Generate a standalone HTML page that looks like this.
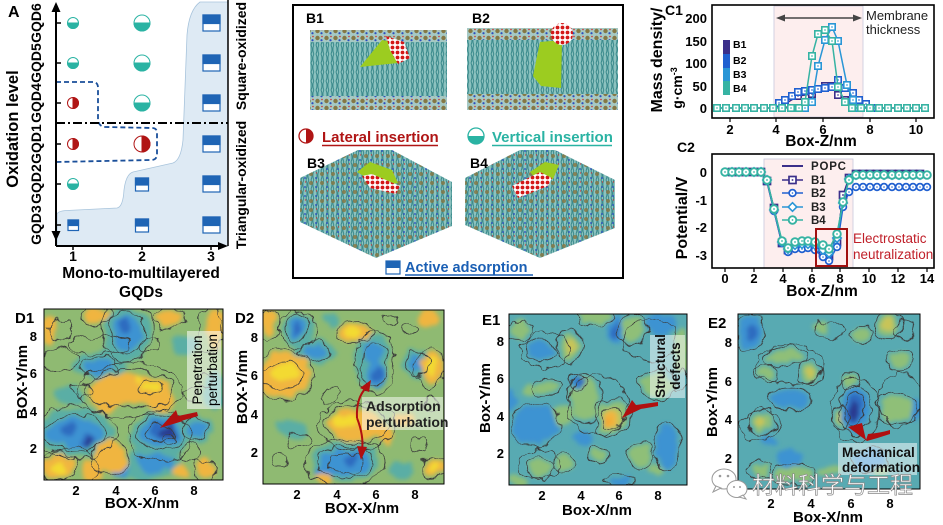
<!DOCTYPE html>
<html><head><meta charset="utf-8"><style>
html,body{margin:0;padding:0;background:#fff;}
svg{display:block;font-family:"Liberation Sans",Arial,sans-serif;}
.b{font-weight:bold;}
</style></head><body>
<svg width="943" height="525" viewBox="0 0 943 525" xmlns="http://www.w3.org/2000/svg">
<defs>
<filter id="hm" filterUnits="userSpaceOnUse" x="0" y="0" width="943" height="525">
<feTurbulence type="fractalNoise" baseFrequency="0.07" numOctaves="2" seed="4" result="t"/>
<feDisplacementMap in="SourceGraphic" in2="t" scale="13" xChannelSelector="R" yChannelSelector="G" result="d"/>
<feGaussianBlur in="d" stdDeviation="2.2"/>
</filter>
<filter id="ct" filterUnits="userSpaceOnUse" x="0" y="0" width="943" height="525">
<feTurbulence type="fractalNoise" baseFrequency="0.07" numOctaves="2" seed="4" result="t"/>
<feDisplacementMap in="SourceGraphic" in2="t" scale="13" xChannelSelector="R" yChannelSelector="G"/>
</filter>
<filter id="ct2" filterUnits="userSpaceOnUse" x="0" y="0" width="943" height="525">
<feTurbulence type="fractalNoise" baseFrequency="0.09" numOctaves="2" seed="9" result="t"/>
<feDisplacementMap in="SourceGraphic" in2="t" scale="12" xChannelSelector="R" yChannelSelector="G"/>
</filter>
<clipPath id="cD1"><rect x="44" y="309" width="179" height="171"/></clipPath>
<clipPath id="cD2"><rect x="263" y="310" width="181" height="174"/></clipPath>
<clipPath id="cE1"><rect x="509" y="314" width="178" height="171"/></clipPath>
<clipPath id="cE2"><rect x="738" y="314" width="182" height="175"/></clipPath>
<pattern id="lip" width="5" height="9" patternUnits="userSpaceOnUse">
<rect width="5" height="9" fill="#8cc2bf"/>
<path d="M1 0 Q3 4.5 1 9 M3.8 0 Q2 4.5 3.8 9" stroke="#3a8a8c" stroke-width="1" fill="none"/>
</pattern>
<pattern id="head" width="9" height="7" patternUnits="userSpaceOnUse">
<rect width="9" height="7" fill="#a6c9c4"/>
<circle cx="2.5" cy="3" r="2.2" fill="#857845"/>
<circle cx="6.5" cy="5.2" r="1.1" fill="#2a4fc0"/>
<circle cx="7" cy="1.5" r="0.8" fill="#d03030"/>
</pattern>
<pattern id="head2" width="11" height="9" patternUnits="userSpaceOnUse">
<circle cx="3" cy="3" r="2" fill="#857845"/>
<circle cx="8" cy="7" r="1" fill="#2a4fc0"/>
<circle cx="8.5" cy="2" r="0.7" fill="#d03030"/>
</pattern>
<pattern id="gq" width="5" height="5" patternUnits="userSpaceOnUse">
<rect width="5" height="5" fill="#fff"/>
<circle cx="2.5" cy="2.5" r="1.9" fill="#d41818"/>
</pattern>
<marker id="s1" markerWidth="9" markerHeight="9" refX="4.5" refY="4.5" markerUnits="userSpaceOnUse"><rect x="1.3" y="1.3" width="6.4" height="6.4" fill="#fff" stroke="#3b2f8a" stroke-width="1.6"/><rect x="3.8" y="3.8" width="1.4" height="1.4" fill="#3b2f8a"/></marker>
<marker id="s2" markerWidth="9" markerHeight="9" refX="4.5" refY="4.5" markerUnits="userSpaceOnUse"><rect x="1.3" y="1.3" width="6.4" height="6.4" fill="#fff" stroke="#2060d0" stroke-width="1.6"/><rect x="3.8" y="3.8" width="1.4" height="1.4" fill="#2060d0"/></marker>
<marker id="s3" markerWidth="9" markerHeight="9" refX="4.5" refY="4.5" markerUnits="userSpaceOnUse"><rect x="1.3" y="1.3" width="6.4" height="6.4" fill="#fff" stroke="#2a96d6" stroke-width="1.6"/><rect x="3.8" y="3.8" width="1.4" height="1.4" fill="#2a96d6"/></marker>
<marker id="s4" markerWidth="9" markerHeight="9" refX="4.5" refY="4.5" markerUnits="userSpaceOnUse"><rect x="1.3" y="1.3" width="6.4" height="6.4" fill="#fff" stroke="#36b3a3" stroke-width="1.6"/><rect x="3.8" y="3.8" width="1.4" height="1.4" fill="#36b3a3"/></marker>
<marker id="q1" markerWidth="10" markerHeight="10" refX="5" refY="5" markerUnits="userSpaceOnUse"><rect x="1.5" y="1.5" width="7" height="7" fill="#fff" stroke="#3b2f8a" stroke-width="1.7"/><rect x="4.2" y="4.2" width="1.6" height="1.6" fill="#3b2f8a"/></marker>
<marker id="c2" markerWidth="10" markerHeight="10" refX="5" refY="5" markerUnits="userSpaceOnUse"><circle cx="5" cy="5" r="3.4" fill="#fff" stroke="#2060d0" stroke-width="1.7"/><circle cx="5" cy="5" r="0.8" fill="#2060d0"/></marker>
<marker id="d3" markerWidth="11" markerHeight="11" refX="5.5" refY="5.5" markerUnits="userSpaceOnUse"><path d="M5.5 1.2 L9.8 5.5 L5.5 9.8 L1.2 5.5Z" fill="#fff" stroke="#2a96d6" stroke-width="1.6"/></marker>
<marker id="c4" markerWidth="11" markerHeight="11" refX="5.5" refY="5.5" markerUnits="userSpaceOnUse"><circle cx="5.5" cy="5.5" r="3.8" fill="#fff" stroke="#36b3a3" stroke-width="1.9"/><circle cx="5.5" cy="5.5" r="0.9" fill="#36b3a3"/></marker>
</defs>

<!-- ================= PANEL A ================= -->
<path d="M57,246 L57,214 Q58,211 67,210.5 L117,208 Q123,207 124,190 Q126,174 133,172 L173,163 Q181,160 183,140 L187,35 Q189,10 200,2 L228,2 L228,246 Z" fill="#deeaf4" stroke="#a8c4dc" stroke-width="0.8"/>
<path d="M56,82 L93,82 Q98,82 98,88 L98,120 Q99,127 106,127 L152,128 Q157,128 157,133 L157,154 Q157,160 151,160 L56,162" fill="none" stroke="#1a4f9a" stroke-width="1.8" stroke-dasharray="5,3"/>
<line x1="56" y1="123" x2="228" y2="123" stroke="#000" stroke-width="2" stroke-dasharray="9,3,2,3"/>
<line x1="56" y1="4" x2="56" y2="246" stroke="#000" stroke-width="2"/>
<line x1="56" y1="246" x2="224" y2="246" stroke="#000" stroke-width="2"/>
<line x1="228" y1="0" x2="228" y2="246" stroke="#000" stroke-width="1.5"/>
<path d="M51.5,12 L56,2 L60.5,12Z M51.5,231 L56,241 L60.5,231Z M218,242 L228,246 L218,250Z" fill="#000"/>
<g stroke="#000" stroke-width="1.5">
<line x1="56" y1="23" x2="61" y2="23"/><line x1="56" y1="63" x2="61" y2="63"/><line x1="56" y1="103" x2="61" y2="103"/>
<line x1="56" y1="144" x2="61" y2="144"/><line x1="56" y1="184" x2="61" y2="184"/><line x1="56" y1="225" x2="61" y2="225"/>
<line x1="73" y1="246" x2="73" y2="250"/><line x1="142" y1="246" x2="142" y2="250"/><line x1="211" y1="246" x2="211" y2="250"/>
</g>
<g stroke="#2ab3a3" stroke-width="1">
<circle cx="73" cy="23" r="5.5" fill="#fff"/><path d="M67.5,23 A5.5,5.5 0 0 0 78.5,23Z" fill="#2ab3a3"/>
<circle cx="73" cy="63" r="5.5" fill="#fff"/><path d="M67.5,63 A5.5,5.5 0 0 0 78.5,63Z" fill="#2ab3a3"/>
<circle cx="73" cy="184" r="5.5" fill="#fff"/><path d="M67.5,184 A5.5,5.5 0 0 0 78.5,184Z" fill="#2ab3a3"/>
<circle cx="142" cy="23" r="8" fill="#fff"/><path d="M134,23 A8,8 0 0 0 150,23Z" fill="#2ab3a3"/>
<circle cx="142" cy="63" r="8" fill="#fff"/><path d="M134,63 A8,8 0 0 0 150,63Z" fill="#2ab3a3"/>
<circle cx="142" cy="103" r="8" fill="#fff"/><path d="M134,103 A8,8 0 0 0 150,103Z" fill="#2ab3a3"/>
</g>
<g stroke="#b01515" stroke-width="1">
<circle cx="73" cy="103" r="5.5" fill="#fff"/><path d="M73,97.5 A5.5,5.5 0 0 1 73,108.5Z" fill="#b01515"/>
<circle cx="73" cy="144" r="5.5" fill="#fff"/><path d="M73,138.5 A5.5,5.5 0 0 1 73,149.5Z" fill="#b01515"/>
<circle cx="142" cy="144" r="8" fill="#fff"/><path d="M142,136 A8,8 0 0 1 142,152Z" fill="#b01515"/>
</g>
<g stroke="#1f65b5" stroke-width="1.2">
<rect x="203" y="15" width="17" height="16" fill="#fff"/><rect x="203" y="15" width="17" height="8.5" fill="#1f65b5"/>
<rect x="203" y="55" width="17" height="16" fill="#fff"/><rect x="203" y="55" width="17" height="8.5" fill="#1f65b5"/>
<rect x="203" y="95" width="17" height="16" fill="#fff"/><rect x="203" y="95" width="17" height="8.5" fill="#1f65b5"/>
<rect x="203" y="136" width="17" height="16" fill="#fff"/><rect x="203" y="136" width="17" height="8.5" fill="#1f65b5"/>
<rect x="203" y="176" width="17" height="16" fill="#fff"/><rect x="203" y="176" width="17" height="8.5" fill="#1f65b5"/>
<rect x="203" y="217" width="17" height="16" fill="#fff"/><rect x="203" y="217" width="17" height="8.5" fill="#1f65b5"/>
<rect x="135.5" y="178" width="13" height="13" fill="#fff"/><rect x="135.5" y="178" width="13" height="7" fill="#1f65b5"/>
<rect x="135.5" y="219" width="13" height="13" fill="#fff"/><rect x="135.5" y="219" width="13" height="7" fill="#1f65b5"/>
<rect x="68" y="220" width="10.5" height="10.5" fill="#fff"/><rect x="68" y="220" width="10.5" height="5.5" fill="#1f65b5"/>
</g>
<text x="8" y="17" class="b" font-size="16">A</text>
<g class="b" font-size="14" text-anchor="middle">
<text transform="translate(41,23) rotate(-90)">GQD6</text>
<text transform="translate(41,63) rotate(-90)">GQD5</text>
<text transform="translate(41,103) rotate(-90)">GQD4</text>
<text transform="translate(41,144) rotate(-90)">GQD1</text>
<text transform="translate(41,184) rotate(-90)">GQD2</text>
<text transform="translate(41,225) rotate(-90)">GQD3</text>
<text x="73" y="261">1</text><text x="142" y="261">2</text><text x="211" y="261">3</text>
<text transform="translate(246,56) rotate(-90)">Square-oxidized</text>
<text transform="translate(246,185) rotate(-90)">Triangular-oxidized</text>
</g>
<text transform="translate(18,129) rotate(-90)" class="b" font-size="16.5" text-anchor="middle">Oxidation level</text>
<text x="141" y="278" class="b" font-size="15.5" text-anchor="middle">Mono-to-multilayered</text>
<text x="141" y="297" class="b" font-size="15.5" text-anchor="middle">GQDs</text>

<!-- ================= PANEL B ================= -->
<rect x="293" y="5" width="330" height="273" fill="#fff" stroke="#000" stroke-width="2"/>
<rect x="310" y="36" width="137" height="70" fill="url(#lip)"/>
<rect x="310" y="30" width="137" height="12" fill="url(#head)"/>
<rect x="310" y="96" width="137" height="14" fill="url(#head)"/>
<path d="M360,67 L382,40 L396,42 L398,63Z" fill="#9ccc20"/>
<path d="M386,36 L404,42 L410,58 L398,64 L390,50Z" fill="url(#gq)"/>
<rect x="467" y="34" width="151" height="70" fill="url(#lip)"/>
<rect x="467" y="28" width="151" height="12" fill="url(#head)"/>
<rect x="467" y="94" width="151" height="16" fill="url(#head)"/>
<path d="M540,42 L562,40 L561,88 L541,86 L533,76Z" fill="#9ccc20"/>
<circle cx="562" cy="34" r="11" fill="url(#gq)"/>
<path d="M358,150 L300,178 L300,222 L376,258 L452,226 L452,182 L392,150Z" fill="url(#lip)"/>
<path d="M358,150 L300,178 L300,222 L376,258 L452,226 L452,182 L392,150Z" fill="url(#head2)" opacity="0.85"/>
<path d="M357,172 L370,162 L392,170 L398,183 L380,186Z" fill="#9ccc20"/>
<path d="M362,176 L372,174 L400,186 L396,194 L370,188Z" fill="url(#gq)"/>
<path d="M520,150 L465,178 L465,225 L540,258 L615,228 L615,180 L555,150Z" fill="url(#lip)"/>
<path d="M520,150 L465,178 L465,225 L540,258 L615,228 L615,180 L555,150Z" fill="url(#head2)" opacity="0.85"/>
<path d="M530,172 L545,162 L559,165 L553,179 L538,181Z" fill="#9ccc20"/>
<path d="M512,186 L540,172 L552,178 L548,186 L518,198Z" fill="url(#gq)"/>
<g class="b" font-size="14">
<text x="306" y="23">B1</text><text x="472" y="23">B2</text>
<text x="307" y="168">B3</text><text x="470" y="168">B4</text>
</g>
<circle cx="306" cy="136" r="7" fill="#fff" stroke="#b01515" stroke-width="1.3"/><path d="M306,129 A7,7 0 0 1 306,143Z" fill="#b01515"/>
<text x="322" y="142" class="b" font-size="15" fill="#b01515">Lateral insertion</text>
<line x1="322" y1="145.5" x2="438" y2="145.5" stroke="#b01515" stroke-width="1.5"/>
<circle cx="476" cy="136" r="8" fill="#fff" stroke="#2ab3a3" stroke-width="1.3"/><path d="M468,136 A8,8 0 0 0 484,136Z" fill="#2ab3a3"/>
<text x="492" y="142" class="b" font-size="15" fill="#2ab3a3">Vertical insertion</text>
<line x1="492" y1="145.5" x2="612" y2="145.5" stroke="#2ab3a3" stroke-width="1.5"/>
<rect x="386" y="261" width="14" height="13" fill="#fff" stroke="#1f65b5" stroke-width="1.2"/><rect x="386" y="261" width="14" height="7" fill="#1f65b5"/>
<text x="405" y="272" class="b" font-size="14.5" fill="#1a5fb4">Active adsorption</text>
<line x1="405" y1="275" x2="533" y2="275" stroke="#1a5fb4" stroke-width="1.5"/>

<!-- ================= PANEL C1 ================= -->
<rect x="774" y="6" width="89" height="111" fill="#fdeeee" stroke="#c8c8dc" stroke-width="0.8"/>
<rect x="712" y="5" width="222" height="113" fill="none" stroke="#000" stroke-width="1.6"/>
<line x1="782" y1="18" x2="856" y2="18" stroke="#444" stroke-width="1.5"/>
<path d="M776,18 L785,14.5 L785,21.5Z M862,18 L853,14.5 L853,21.5Z" fill="#444"/>
<text x="866" y="20" font-size="13" fill="#222">Membrane</text>
<text x="866" y="34" font-size="13" fill="#222">thickness</text>
<polyline points="717,108 773,108 785,104 798,96 812,94 825,86 832,86 838,95 845,100 852,106 859,108 929,108" fill="none" stroke="#3b2f8a" stroke-width="1.5" marker-mid="url(#s1)"/>
<polyline points="773,108 779,103 785,100 792,96 798,92 805,91 812,90 818,89 825,88 832,87 838,80 845,88 853,93 859,100 866,104 872,108" fill="none" stroke="#2060d0" stroke-width="1.5" marker-start="url(#s2)" marker-mid="url(#s2)" marker-end="url(#s2)"/>
<polyline points="799,108 805,108 812,102 818,66 825,40 832,27 838,41 847,85 853,100 859,108" fill="none" stroke="#2a96d6" stroke-width="1.5" marker-mid="url(#s3)" marker-end="url(#s3)"/>
<polyline points="717,108 726,108 736,108 745,108 754,108 764,108 773,108 782,108 791,108 799,108 805,102 812,56 818,34 825,30 832,41 838,87 845,102 852,108 861,108 870,108 879,108 888,108 898,108 907,108 916,108 925,108" fill="none" stroke="#36b3a3" stroke-width="1.5" marker-start="url(#s4)" marker-mid="url(#s4)" marker-end="url(#s4)"/>
<rect x="723" y="40" width="7" height="14" fill="#3b2f8a"/>
<rect x="723" y="54" width="7" height="14" fill="#2060d0"/>
<rect x="723" y="68" width="7" height="13" fill="#2a96d6"/>
<rect x="723" y="81" width="7" height="14" fill="#36b3a3"/>
<g class="b" font-size="10.5"><text x="733" y="48">B1</text><text x="733" y="64">B2</text><text x="733" y="78">B3</text><text x="733" y="92">B4</text></g>
<g stroke="#000" stroke-width="1.2">
<line x1="730" y1="118" x2="730" y2="122"/><line x1="776" y1="118" x2="776" y2="122"/><line x1="823" y1="118" x2="823" y2="122"/><line x1="870" y1="118" x2="870" y2="122"/><line x1="916" y1="118" x2="916" y2="122"/>
</g>
<g class="b" font-size="13" text-anchor="end">
<text x="707" y="23">200</text><text x="707" y="46">150</text><text x="707" y="68">100</text><text x="707" y="91">50</text><text x="707" y="113">0</text>
</g>
<g class="b" font-size="13" text-anchor="middle">
<text x="730" y="134">2</text><text x="776" y="134">4</text><text x="823" y="134">6</text><text x="870" y="134">8</text><text x="916" y="134">10</text>
</g>
<text x="821" y="146" class="b" font-size="15.5" text-anchor="middle">Box-Z/nm</text>
<text x="665" y="15" class="b" font-size="14">C1</text>
<text transform="translate(662,60) rotate(-90)" class="b" font-size="16" text-anchor="middle">Mass density/</text>
<text transform="translate(682,88) rotate(-90)" class="b" font-size="14" text-anchor="middle">g·cm<tspan font-size="9" dy="-5">-3</tspan></text>

<!-- ================= PANEL C2 ================= -->
<rect x="764" y="159" width="89" height="109" fill="#fdeeee" stroke="#c8c8dc" stroke-width="0.8"/>
<rect x="712" y="154" width="222" height="114" fill="none" stroke="#000" stroke-width="1.6"/>
<polyline points="725,172 761,172 767,181 774,210 782,243 788,250 795,247 802,247 808,246 815,247 823,253 829,256 837,242 843,198 849,178 856,174 927,174" fill="none" stroke="#3b2f8a" stroke-width="2"/>
<polyline points="725,172 732,172 739,172 746,172 754,172 761,172 767,181 774,208 782,243 788,250 795,247 802,247 808,246 815,247 823,253 829,256 837,242 843,195 849,178 856,174 863,174 870,174 877,174 884,174 892,174 899,174 906,174 913,174 920,174 927,174" fill="none" stroke="#3b2f8a" stroke-width="1.5" marker-mid="url(#q1)"/>
<polyline points="725,172 732,172 739,172 746,172 754,172 761,172 767,181 774,211 782,243 788,252 795,249 802,249 808,248 815,250 823,257 829,261 837,247 843,207 849,192 856,187 863,187 870,187 877,187 884,187 892,187 899,187 906,187 913,187 920,187 927,187" fill="none" stroke="#2060d0" stroke-width="1.5" marker-start="url(#c2)" marker-mid="url(#c2)" marker-end="url(#c2)"/>
<polyline points="725,172 732,172 739,172 746,172 754,172 761,172 767,180 774,210 782,242 788,249 795,245 802,244 808,244 815,245 823,250 829,253 837,238 843,203 849,179 856,175 863,175 870,175 877,175 884,175 892,175 899,175 906,175 913,175 920,175 927,175" fill="none" stroke="#2a96d6" stroke-width="1.5" marker-mid="url(#d3)"/>
<polyline points="725,172 732,172 739,172 746,172 754,172 761,172 767,180 774,209 782,241 788,248 795,242 802,241 808,241 815,242 823,245 829,249 837,234 843,202 849,180 856,175 863,175 870,175 877,175 884,175 892,175 899,175 906,175 913,175 920,175 927,175" fill="none" stroke="#36b3a3" stroke-width="1.6" marker-start="url(#c4)" marker-mid="url(#c4)" marker-end="url(#c4)"/>
<line x1="782" y1="166" x2="803" y2="166" stroke="#3b2f8a" stroke-width="2"/>
<polyline points="782,180 792.5,180 803,180" fill="none" stroke="#3b2f8a" stroke-width="1.5" marker-mid="url(#q1)"/>
<polyline points="782,193 792.5,193 803,193" fill="none" stroke="#2060d0" stroke-width="1.5" marker-mid="url(#c2)"/>
<polyline points="782,207 792.5,207 803,207" fill="none" stroke="#2a96d6" stroke-width="1.5" marker-mid="url(#d3)"/>
<polyline points="782,220 792.5,220 803,220" fill="none" stroke="#36b3a3" stroke-width="1.6" marker-mid="url(#c4)"/>
<g class="b" font-size="11.5" fill="#222">
<text x="811" y="170" letter-spacing="0.8">POPC</text><text x="811" y="184">B1</text><text x="811" y="197">B2</text><text x="811" y="211">B3</text><text x="811" y="224">B4</text>
</g>
<rect x="816" y="229" width="31" height="37" fill="none" stroke="#a01010" stroke-width="2"/>
<text x="853" y="243" font-size="13.5" fill="#c0202a">Electrostatic</text>
<text x="853" y="259" font-size="13.5" fill="#c0202a">neutralization</text>
<g stroke="#000" stroke-width="1.2">
<line x1="725" y1="268" x2="725" y2="272"/><line x1="754" y1="268" x2="754" y2="272"/><line x1="783" y1="268" x2="783" y2="272"/><line x1="812" y1="268" x2="812" y2="272"/><line x1="840" y1="268" x2="840" y2="272"/><line x1="869" y1="268" x2="869" y2="272"/><line x1="898" y1="268" x2="898" y2="272"/><line x1="927" y1="268" x2="927" y2="272"/>
</g>
<g class="b" font-size="13" text-anchor="end">
<text x="707" y="177">0</text><text x="707" y="205">-1</text><text x="707" y="232">-2</text><text x="707" y="260">-3</text>
</g>
<g class="b" font-size="13" text-anchor="middle">
<text x="725" y="283">0</text><text x="754" y="283">2</text><text x="783" y="283">4</text><text x="812" y="283">6</text><text x="840" y="283">8</text><text x="869" y="283">10</text><text x="898" y="283">12</text><text x="927" y="283">14</text>
</g>
<text x="822" y="296" class="b" font-size="15.5" text-anchor="middle">Box-Z/nm</text>
<text x="677" y="152" class="b" font-size="14">C2</text>
<text transform="translate(687,218) rotate(-90)" class="b" font-size="16" text-anchor="middle">Potential/V</text>

<!-- ================= D1 ================= -->
<g clip-path="url(#cD1)">
<rect x="40" y="305" width="190" height="180" fill="#8fba72"/>
<g filter="url(#hm)">
<g fill="#5aaea5"><ellipse cx="127" cy="335" rx="24" ry="28"/><ellipse cx="100" cy="365" rx="28" ry="14"/><ellipse cx="75" cy="432" rx="40" ry="24"/><ellipse cx="160" cy="435" rx="30" ry="22"/><ellipse cx="155" cy="462" rx="28" ry="16"/><ellipse cx="195" cy="430" rx="18" ry="14"/><ellipse cx="185" cy="345" rx="14" ry="10"/><ellipse cx="70" cy="395" rx="14" ry="10"/><ellipse cx="215" cy="390" rx="10" ry="20"/><ellipse cx="140" cy="470" rx="20" ry="10"/></g>
<g fill="#3d93d2"><ellipse cx="127" cy="332" rx="14" ry="18"/><ellipse cx="100" cy="367" rx="16" ry="7"/><ellipse cx="75" cy="432" rx="28" ry="15"/><ellipse cx="160" cy="433" rx="20" ry="14"/><ellipse cx="155" cy="463" rx="18" ry="10"/><ellipse cx="198" cy="430" rx="10" ry="8"/><ellipse cx="120" cy="470" rx="8" ry="6"/></g>
<g fill="#2f6cc0"><ellipse cx="126" cy="326" rx="6" ry="10"/><ellipse cx="70" cy="430" rx="9" ry="7"/><ellipse cx="88" cy="441" rx="7" ry="5"/><ellipse cx="163" cy="431" rx="12" ry="9"/></g>
<g fill="#2a3a90"><ellipse cx="167" cy="431" rx="7" ry="6"/><ellipse cx="88" cy="442" rx="3" ry="3"/></g>
<g fill="#f0b540"><ellipse cx="49" cy="328" rx="7" ry="14"/><ellipse cx="97" cy="316" rx="14" ry="7"/><ellipse cx="169" cy="318" rx="14" ry="8"/><ellipse cx="215" cy="330" rx="9" ry="20"/><ellipse cx="130" cy="389" rx="40" ry="16"/><ellipse cx="108" cy="399" rx="16" ry="14"/><ellipse cx="160" cy="398" rx="16" ry="13"/><ellipse cx="58" cy="467" rx="15" ry="13"/><ellipse cx="110" cy="457" rx="16" ry="16"/><ellipse cx="93" cy="470" rx="10" ry="10"/><ellipse cx="207" cy="468" rx="10" ry="10"/><ellipse cx="180" cy="470" rx="8" ry="6"/></g>
<g fill="#f3da33"><ellipse cx="152" cy="387" rx="11" ry="5"/><ellipse cx="59" cy="468" rx="8" ry="7"/><ellipse cx="139" cy="377" rx="4" ry="3"/></g>
</g>
<g filter="url(#ct)" fill="none" stroke="#3a3a3a" stroke-width="0.8">
<ellipse cx="130" cy="389" rx="44" ry="20"/><ellipse cx="151" cy="387" rx="13" ry="7"/><ellipse cx="160" cy="433" rx="23" ry="17"/><ellipse cx="160" cy="433" rx="12" ry="9"/><ellipse cx="127" cy="332" rx="17" ry="21"/><ellipse cx="75" cy="432" rx="31" ry="18"/><ellipse cx="58" cy="467" rx="17" ry="15"/><ellipse cx="110" cy="457" rx="18" ry="18"/><ellipse cx="100" cy="367" rx="19" ry="10"/><ellipse cx="169" cy="318" rx="17" ry="10"/><ellipse cx="97" cy="316" rx="17" ry="9"/><ellipse cx="195" cy="430" rx="13" ry="11"/><ellipse cx="100" cy="345" rx="30" ry="9"/><ellipse cx="60" cy="360" rx="18" ry="12"/><ellipse cx="190" cy="452" rx="10" ry="8"/><ellipse cx="205" cy="380" rx="8" ry="6"/><ellipse cx="127" cy="332" rx="26" ry="30"/>
</g>
<g filter="url(#ct2)" fill="none" stroke="#3a3a3a" stroke-width="0.8">
<ellipse cx="130" cy="390" rx="52" ry="27"/><ellipse cx="75" cy="432" rx="42" ry="26"/><ellipse cx="160" cy="436" rx="32" ry="25"/><ellipse cx="170" cy="440" rx="6" ry="5"/><ellipse cx="60" cy="330" rx="12" ry="10"/><ellipse cx="150" cy="345" rx="10" ry="6"/><ellipse cx="80" cy="390" rx="10" ry="7"/><ellipse cx="205" cy="470" rx="12" ry="11"/><ellipse cx="190" cy="395" rx="8" ry="6"/><ellipse cx="210" cy="330" rx="12" ry="22"/><ellipse cx="70" cy="467" rx="28" ry="20"/>
</g>
</g>
<rect x="44" y="309" width="179" height="171" fill="none" stroke="#000" stroke-width="1"/>
<rect x="187" y="331" width="34" height="78" fill="#fff" opacity="0.55"/>
<g font-size="13.5" text-anchor="middle"><text transform="translate(202,370) rotate(-90)">Penetration</text><text transform="translate(217,370) rotate(-90)">perturbation</text></g>
<path d="M160,428 L176,410 L178,416 L197,412 L198,416 L181,421 L183,421Z" fill="#b01010"/>
<text x="15" y="323" class="b" font-size="15">D1</text>
<g class="b" font-size="13" text-anchor="end"><text x="37" y="341">8</text><text x="37" y="378">6</text><text x="37" y="416">4</text><text x="37" y="453">2</text></g>
<g class="b" font-size="13" text-anchor="middle"><text x="76" y="495">2</text><text x="116" y="495">4</text><text x="155" y="495">6</text><text x="194" y="495">8</text></g>
<text x="142" y="508" class="b" font-size="15" text-anchor="middle">BOX-X/nm</text>
<text transform="translate(27,382) rotate(-90)" class="b" font-size="15" text-anchor="middle">BOX-Y/nm</text>

<!-- ================= D2 ================= -->
<g clip-path="url(#cD2)">
<rect x="258" y="305" width="192" height="185" fill="#8fba72"/>
<g filter="url(#hm)">
<g fill="#5aaea5"><ellipse cx="298" cy="330" rx="16" ry="16"/><ellipse cx="315" cy="352" rx="20" ry="12"/><ellipse cx="372" cy="360" rx="18" ry="28"/><ellipse cx="417" cy="363" rx="16" ry="14"/><ellipse cx="345" cy="462" rx="34" ry="20"/><ellipse cx="290" cy="430" rx="14" ry="10"/><ellipse cx="330" cy="320" rx="10" ry="6"/><ellipse cx="400" cy="470" rx="14" ry="8"/></g>
<g fill="#3d93d2"><ellipse cx="297" cy="328" rx="9" ry="10"/><ellipse cx="315" cy="352" rx="13" ry="7"/><ellipse cx="372" cy="352" rx="10" ry="10"/><ellipse cx="377" cy="374" rx="9" ry="16"/><ellipse cx="417" cy="363" rx="10" ry="9"/><ellipse cx="345" cy="463" rx="26" ry="13"/><ellipse cx="325" cy="472" rx="10" ry="7"/></g>
<g fill="#2f6cc0"><ellipse cx="297" cy="328" rx="4" ry="6"/><ellipse cx="378" cy="373" rx="5" ry="10"/><ellipse cx="352" cy="459" rx="6" ry="6"/></g>
<g fill="#f0b540"><ellipse cx="268" cy="322" rx="8" ry="14"/><ellipse cx="354" cy="332" rx="16" ry="9"/><ellipse cx="428" cy="318" rx="10" ry="8"/><ellipse cx="432" cy="368" rx="12" ry="16"/><ellipse cx="283" cy="375" rx="28" ry="22"/><ellipse cx="265" cy="380" rx="6" ry="15"/><ellipse cx="357" cy="425" rx="28" ry="16"/><ellipse cx="385" cy="435" rx="10" ry="8"/><ellipse cx="433" cy="468" rx="10" ry="9"/><ellipse cx="325" cy="481" rx="7" ry="5"/><ellipse cx="405" cy="420" rx="10" ry="8"/></g>
<g fill="#f3da33"><ellipse cx="354" cy="332" rx="10" ry="5"/><ellipse cx="285" cy="372" rx="14" ry="9"/><ellipse cx="433" cy="468" rx="5" ry="5"/><ellipse cx="345" cy="421" rx="12" ry="6"/><ellipse cx="432" cy="366" rx="6" ry="8"/></g>
</g>
<g filter="url(#ct)" fill="none" stroke="#3a3a3a" stroke-width="0.8">
<ellipse cx="283" cy="375" rx="31" ry="25"/><ellipse cx="357" cy="425" rx="31" ry="19"/><ellipse cx="345" cy="463" rx="29" ry="16"/><ellipse cx="375" cy="365" rx="13" ry="22"/><ellipse cx="297" cy="328" rx="12" ry="13"/><ellipse cx="354" cy="332" rx="18" ry="11"/><ellipse cx="417" cy="363" rx="13" ry="12"/><ellipse cx="433" cy="468" rx="12" ry="11"/><ellipse cx="315" cy="352" rx="16" ry="10"/><ellipse cx="300" cy="440" rx="12" ry="8"/><ellipse cx="410" cy="330" rx="8" ry="6"/><ellipse cx="280" cy="460" rx="8" ry="6"/><ellipse cx="430" cy="405" rx="8" ry="6"/><ellipse cx="345" cy="463" rx="40" ry="24"/><ellipse cx="283" cy="375" rx="20" ry="14"/>
</g>
<g filter="url(#ct2)" fill="none" stroke="#3a3a3a" stroke-width="0.8">
<ellipse cx="375" cy="362" rx="20" ry="32"/><ellipse cx="357" cy="425" rx="40" ry="24"/><ellipse cx="298" cy="330" rx="18" ry="18"/><ellipse cx="430" cy="368" rx="15" ry="20"/><ellipse cx="330" cy="395" rx="10" ry="8"/><ellipse cx="420" cy="445" rx="10" ry="7"/><ellipse cx="270" cy="325" rx="10" ry="16"/><ellipse cx="390" cy="320" rx="8" ry="5"/><ellipse cx="345" cy="463" rx="18" ry="10"/>
</g>
</g>
<rect x="263" y="310" width="181" height="174" fill="none" stroke="#000" stroke-width="1"/>
<rect x="362" y="397" width="81" height="33" fill="#fff" opacity="0.5"/>
<g class="b" font-size="14" fill="#222"><text x="366" y="411">Adsorption</text><text x="366" y="427">perturbation</text></g>
<path d="M357,418 Q356,398 366,388" fill="none" stroke="#b01010" stroke-width="2"/>
<path d="M371,380 L360,388 L369,392Z" fill="#b01010"/>
<path d="M357,418 Q364,436 362,450" fill="none" stroke="#b01010" stroke-width="2"/>
<path d="M361,460 L357,446 L367,447Z" fill="#b01010"/>
<text x="235" y="323" class="b" font-size="15">D2</text>
<g class="b" font-size="13" text-anchor="end"><text x="258" y="342">8</text><text x="258" y="380">6</text><text x="258" y="419">4</text><text x="258" y="457">2</text></g>
<g class="b" font-size="13" text-anchor="middle"><text x="297" y="499">2</text><text x="337" y="499">4</text><text x="376" y="499">6</text><text x="415" y="499">8</text></g>
<text x="362" y="513" class="b" font-size="15" text-anchor="middle">BOX-X/nm</text>
<text transform="translate(247,387) rotate(-90)" class="b" font-size="15" text-anchor="middle">BOX-Y/nm</text>

<!-- ================= E1 ================= -->
<g clip-path="url(#cE1)">
<rect x="505" y="310" width="186" height="180" fill="#58aab2"/>
<g filter="url(#hm)">
<g fill="#8fbf78"><ellipse cx="570" cy="345" rx="10" ry="14"/><ellipse cx="550" cy="387" rx="12" ry="7"/><ellipse cx="540" cy="468" rx="11" ry="8"/><ellipse cx="563" cy="463" rx="9" ry="7"/><ellipse cx="600" cy="455" rx="9" ry="7"/><ellipse cx="585" cy="398" rx="14" ry="22"/><ellipse cx="612" cy="418" rx="16" ry="16"/><ellipse cx="658" cy="385" rx="16" ry="12"/><ellipse cx="633" cy="330" rx="11" ry="13"/><ellipse cx="682" cy="350" rx="8" ry="22"/><ellipse cx="520" cy="330" rx="11" ry="8"/><ellipse cx="595" cy="316" rx="16" ry="8"/><ellipse cx="560" cy="415" rx="14" ry="9"/><ellipse cx="640" cy="455" rx="11" ry="11"/><ellipse cx="530" cy="390" rx="8" ry="6"/><ellipse cx="655" cy="470" rx="8" ry="6"/><ellipse cx="520" cy="480" rx="10" ry="5"/></g>
<g fill="#c8c458"><ellipse cx="570" cy="345" rx="6" ry="9"/><ellipse cx="612" cy="418" rx="10" ry="10"/></g>
<ellipse cx="610" cy="419" rx="7" ry="8" fill="#f0b540"/><ellipse cx="608" cy="421" rx="3" ry="4" fill="#f4a830"/>
<g fill="#3d93d2"><ellipse cx="540" cy="350" rx="14" ry="10"/><ellipse cx="616" cy="330" rx="8" ry="14"/><ellipse cx="535" cy="425" rx="24" ry="18"/><ellipse cx="667" cy="445" rx="11" ry="24"/><ellipse cx="660" cy="325" rx="14" ry="12"/><ellipse cx="585" cy="440" rx="10" ry="8"/><ellipse cx="578" cy="381" rx="7" ry="6"/><ellipse cx="510" cy="400" rx="6" ry="12"/><ellipse cx="620" cy="480" rx="12" ry="6"/></g>
<g fill="#2f6cc0"><ellipse cx="580" cy="381" rx="5" ry="4"/><ellipse cx="617" cy="330" rx="4" ry="8"/></g>
</g>
<g filter="url(#ct)" fill="none" stroke="#3a3a3a" stroke-width="0.8">
<ellipse cx="570" cy="345" rx="13" ry="17"/><ellipse cx="550" cy="387" rx="15" ry="10"/><ellipse cx="540" cy="468" rx="13" ry="10"/><ellipse cx="563" cy="463" rx="11" ry="9"/><ellipse cx="585" cy="398" rx="17" ry="25"/><ellipse cx="612" cy="418" rx="19" ry="19"/><ellipse cx="612" cy="418" rx="11" ry="11"/><ellipse cx="658" cy="385" rx="19" ry="15"/><ellipse cx="633" cy="330" rx="14" ry="16"/><ellipse cx="540" cy="350" rx="16" ry="12"/><ellipse cx="535" cy="425" rx="26" ry="20"/><ellipse cx="667" cy="445" rx="13" ry="26"/><ellipse cx="640" cy="455" rx="13" ry="13"/><ellipse cx="600" cy="455" rx="11" ry="9"/><ellipse cx="595" cy="316" rx="18" ry="10"/><ellipse cx="578" cy="381" rx="9" ry="8"/>
</g>
<g filter="url(#ct2)" fill="none" stroke="#3a3a3a" stroke-width="0.8">
<ellipse cx="598" cy="405" rx="30" ry="30"/><ellipse cx="545" cy="350" rx="24" ry="18"/><ellipse cx="520" cy="330" rx="12" ry="9"/><ellipse cx="650" cy="340" rx="26" ry="22"/><ellipse cx="540" cy="465" rx="22" ry="14"/><ellipse cx="620" cy="480" rx="14" ry="8"/><ellipse cx="680" cy="380" rx="8" ry="12"/>
</g>
</g>
<rect x="509" y="314" width="178" height="171" fill="none" stroke="#000" stroke-width="1"/>
<rect x="650" y="335" width="35" height="63" fill="#fff" opacity="0.5"/>
<g class="b" font-size="13.5" fill="#111" text-anchor="middle"><text transform="translate(665,366) rotate(-90)">Structural</text><text transform="translate(680,366) rotate(-90)">defects</text></g>
<path d="M622,418 L632,400 L636,405 L658,402 L658,406 L641,409 L645,407Z" fill="#b01010"/>
<text x="482" y="325" class="b" font-size="15">E1</text>
<g class="b" font-size="13" text-anchor="end"><text x="504" y="346">8</text><text x="504" y="383">6</text><text x="504" y="421">4</text><text x="504" y="458">2</text></g>
<g class="b" font-size="13" text-anchor="middle"><text x="542" y="500">2</text><text x="581" y="500">4</text><text x="619" y="500">6</text><text x="658" y="500">8</text></g>
<text x="597" y="515" class="b" font-size="15" text-anchor="middle">Box-X/nm</text>
<text transform="translate(490,398) rotate(-90)" class="b" font-size="15" text-anchor="middle">Box-Y/nm</text>

<!-- ================= E2 ================= -->
<g clip-path="url(#cE2)">
<rect x="734" y="310" width="190" height="184" fill="#58aab2"/>
<g filter="url(#hm)">
<g fill="#8fbf78"><ellipse cx="888" cy="325" rx="11" ry="11"/><ellipse cx="785" cy="357" rx="17" ry="7"/><ellipse cx="810" cy="373" rx="9" ry="10"/><ellipse cx="765" cy="373" rx="9" ry="6"/><ellipse cx="762" cy="422" rx="11" ry="9"/><ellipse cx="842" cy="417" rx="7" ry="10"/><ellipse cx="897" cy="408" rx="17" ry="13"/><ellipse cx="795" cy="475" rx="20" ry="8"/><ellipse cx="900" cy="360" rx="10" ry="8"/><ellipse cx="850" cy="380" rx="7" ry="7"/><ellipse cx="820" cy="325" rx="8" ry="6"/><ellipse cx="862" cy="335" rx="10" ry="6"/><ellipse cx="760" cy="470" rx="8" ry="6"/><ellipse cx="830" cy="470" rx="10" ry="6"/><ellipse cx="880" cy="470" rx="8" ry="6"/></g>
<g fill="#c8c458"><ellipse cx="888" cy="325" rx="6" ry="6"/><ellipse cx="762" cy="422" rx="6" ry="5"/><ellipse cx="842" cy="417" rx="4" ry="6"/><ellipse cx="810" cy="373" rx="5" ry="6"/></g>
<g fill="#3d93d2"><ellipse cx="750" cy="333" rx="13" ry="15"/><ellipse cx="855" cy="410" rx="14" ry="22"/><ellipse cx="790" cy="400" rx="20" ry="10"/><ellipse cx="790" cy="460" rx="12" ry="9"/><ellipse cx="916" cy="410" rx="6" ry="12"/><ellipse cx="870" cy="460" rx="16" ry="10"/><ellipse cx="770" cy="440" rx="10" ry="6"/></g>
<g fill="#2f6cc0"><ellipse cx="752" cy="333" rx="6" ry="8"/><ellipse cx="855" cy="410" rx="8" ry="16"/></g>
<ellipse cx="855" cy="410" rx="4" ry="10" fill="#2a3a90"/>
</g>
<g filter="url(#ct)" fill="none" stroke="#3a3a3a" stroke-width="0.8">
<ellipse cx="888" cy="325" rx="14" ry="14"/><ellipse cx="785" cy="357" rx="20" ry="10"/><ellipse cx="810" cy="373" rx="12" ry="13"/><ellipse cx="765" cy="373" rx="12" ry="9"/><ellipse cx="762" cy="422" rx="14" ry="12"/><ellipse cx="842" cy="417" rx="10" ry="13"/><ellipse cx="897" cy="408" rx="20" ry="16"/><ellipse cx="795" cy="475" rx="23" ry="11"/><ellipse cx="900" cy="360" rx="13" ry="11"/><ellipse cx="750" cy="333" rx="15" ry="17"/><ellipse cx="855" cy="410" rx="16" ry="24"/><ellipse cx="855" cy="410" rx="9" ry="17"/><ellipse cx="790" cy="400" rx="22" ry="12"/><ellipse cx="870" cy="460" rx="18" ry="12"/><ellipse cx="862" cy="335" rx="12" ry="8"/><ellipse cx="850" cy="380" rx="9" ry="9"/>
</g>
<g filter="url(#ct2)" fill="none" stroke="#3a3a3a" stroke-width="0.8">
<ellipse cx="790" cy="365" rx="34" ry="20"/><ellipse cx="855" cy="410" rx="24" ry="32"/><ellipse cx="760" cy="425" rx="20" ry="16"/><ellipse cx="900" cy="400" rx="22" ry="26"/><ellipse cx="830" cy="330" rx="14" ry="8"/><ellipse cx="905" cy="330" rx="10" ry="10"/><ellipse cx="760" cy="470" rx="12" ry="9"/>
</g>
</g>
<rect x="738" y="314" width="182" height="175" fill="none" stroke="#000" stroke-width="1"/>
<rect x="838" y="443" width="79" height="32" fill="#fff" opacity="0.5"/>
<g class="b" font-size="13.5" fill="#111"><text x="842" y="457">Mechanical</text><text x="842" y="472">deformation</text></g>
<path d="M848,427 L862,423 L866,440 L868,434 Q880,433 890,430 L890,434 Q878,438 867,441Z" fill="#b01010"/>
<text x="708" y="328" class="b" font-size="15">E2</text>
<g class="b" font-size="13" text-anchor="end"><text x="732" y="347">8</text><text x="732" y="386">6</text><text x="732" y="424">4</text><text x="732" y="463">2</text></g>
<g class="b" font-size="13" text-anchor="middle"><text x="771" y="508">2</text><text x="811" y="508">4</text><text x="851" y="508">6</text><text x="890" y="508">8</text></g>
<text x="828" y="522" class="b" font-size="15" text-anchor="middle">Box-X/nm</text>
<text transform="translate(717,402) rotate(-90)" class="b" font-size="15" text-anchor="middle">Box-Y/nm</text>

<!-- watermark -->
<g fill="#fff" stroke="#9a9a9a" stroke-width="1">
<ellipse cx="724" cy="479" rx="12" ry="10"/>
<path d="M716,486 L713,492 L721,488Z"/>
<ellipse cx="737" cy="489" rx="10" ry="8.5"/>
<path d="M743,495 L746,499 L739,497Z"/>
</g>
<g fill="#9a9a9a"><circle cx="720" cy="476" r="1.3"/><circle cx="728" cy="476" r="1.3"/><circle cx="734" cy="487" r="1"/><circle cx="740" cy="487" r="1"/></g>
<text x="752" y="493" font-family="'Liberation Sans','Noto Sans CJK SC',sans-serif" font-size="23" fill="#fff" stroke="#8a8a8a" stroke-width="0.7">材料科学与工程</text>
</svg>
</body></html>
